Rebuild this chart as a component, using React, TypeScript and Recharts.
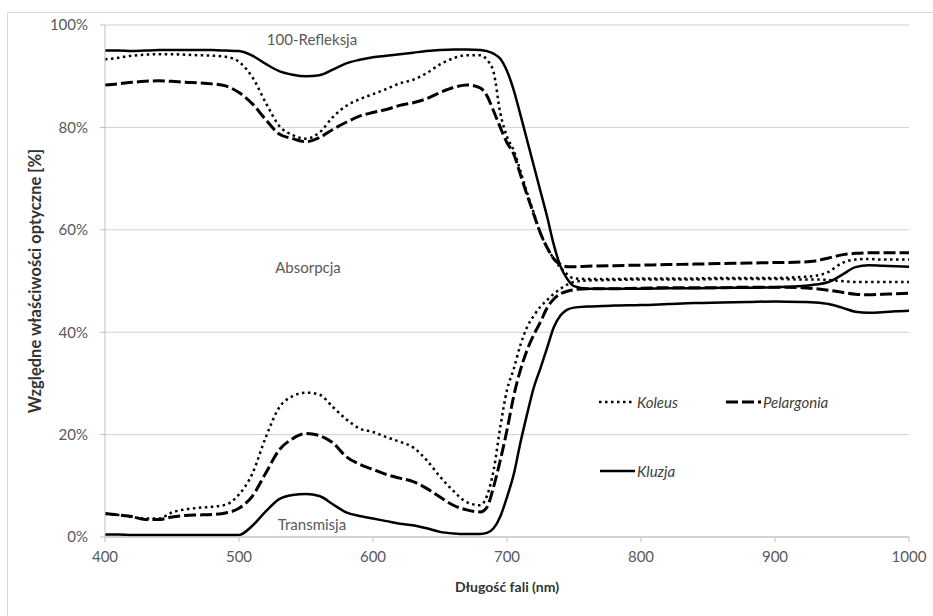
import React from 'react';
import { LineChart, Line, XAxis, YAxis, CartesianGrid } from 'recharts';

// wavelength (nm)
const wavelengths = [
  400, 410, 420, 430, 440, 450, 460, 470, 480, 490,
  500, 510, 520, 530, 540, 550, 560, 570, 580, 590,
  600, 610, 620, 630, 640, 650, 660, 670, 680,
  685, 690, 695, 700, 705, 710, 715, 720, 725, 730, 735, 740, 745, 750,
  760, 780, 800, 820, 840, 860, 880, 900, 920, 930, 940, 950, 960, 970, 980, 990, 1000,
];

// 100 - reflection [%]
const koleusRefl = [
  93.3, 93.6, 94.0, 94.2, 94.3, 94.3, 94.2, 94.1, 94.0, 93.8,
  92.8, 89.8, 84.8, 80.3, 78.5, 77.8, 79.0, 82.0, 84.2, 85.5,
  86.5, 87.5, 88.6, 89.3, 90.6, 92.3, 93.5, 94.1, 94.1,
  93.2, 90.8, 82.8, 78.2, 75.5, 71.5, 67.2, 63.3, 59.3, 56.5, 54.3, 52.6, 51.3, 50.5,
  50.4, 50.4, 50.5, 50.5, 50.5, 50.6, 50.6, 50.6, 50.8, 51.0, 51.8, 53.5, 54.2, 54.3, 54.2, 54.2, 54.2,
];
const pelargoniaRefl = [
  88.3, 88.5, 88.8, 89.0, 89.1, 89.0, 88.8, 88.7, 88.5, 88.1,
  86.8, 84.6, 81.5, 78.7, 77.8, 77.2, 78.0, 79.6, 81.0, 82.2,
  82.9, 83.5, 84.3, 84.8, 85.6, 86.8, 87.8, 88.3, 87.7,
  86.2, 83.2, 80.0, 77.0, 74.8, 70.8, 66.8, 63.0, 59.3, 56.5, 54.3, 53.2, 52.8, 52.8,
  52.9, 53.0, 53.1, 53.2, 53.3, 53.4, 53.5, 53.6, 53.7, 53.9, 54.5, 55.1, 55.4, 55.5, 55.5, 55.5, 55.5,
];
const kluzjaRefl = [
  95.0, 95.0, 94.9, 95.0, 95.1, 95.1, 95.1, 95.1, 95.1, 95.0,
  94.9, 94.0, 92.4, 91.0, 90.3, 90.0, 90.2, 91.3, 92.5, 93.2,
  93.7, 94.0, 94.3, 94.6, 94.9, 95.1, 95.2, 95.2, 95.1,
  94.9, 94.4, 93.4, 91.0, 87.3, 82.5, 77.5, 72.5, 67.5, 62.5, 57.0, 52.8, 50.4, 49.0,
  48.5, 48.5, 48.5, 48.6, 48.6, 48.7, 48.7, 48.8, 49.0, 49.3, 49.8, 51.2, 52.7, 53.1, 53.0, 52.9, 52.8,
];

// transmission [%]
const koleusTrans = [
  4.5, 4.3, 3.9, 3.6, 3.6, 4.8, 5.4, 5.7, 5.9, 6.3,
  8.3, 12.4, 19.5, 25.3, 27.5, 28.2, 27.8, 25.4, 23.0, 21.2,
  20.5, 19.5, 18.6, 17.5, 15.0, 11.8, 9.0, 6.8, 6.2,
  8.0, 13.0, 21.5, 28.7, 32.8, 37.5, 41.0, 43.2, 45.0, 46.3, 47.5, 48.5, 49.3, 49.8,
  50.1, 50.2, 50.3, 50.3, 50.3, 50.4, 50.4, 50.4, 50.3, 50.3, 50.2, 50.0, 49.8, 49.8, 49.8, 49.8, 49.8,
];
const pelargoniaTrans = [
  4.6, 4.3, 4.0, 3.4, 3.4, 3.9, 4.2, 4.3, 4.4, 4.7,
  5.6, 8.0, 12.5, 17.0, 19.2, 20.2, 19.8, 18.4, 15.7, 14.2,
  13.2, 12.2, 11.5, 10.8, 9.5, 7.8, 6.2, 5.3, 4.9,
  5.8, 9.8, 15.0, 20.9, 27.5, 32.6, 36.5, 39.5, 42.0, 44.8, 46.5, 47.5, 48.0, 48.3,
  48.5, 48.5, 48.6, 48.7, 48.7, 48.7, 48.8, 48.8, 48.7, 48.5, 48.2, 47.8, 47.4, 47.3, 47.4, 47.5, 47.6,
];
const kluzjaTrans = [
  0.5, 0.5, 0.4, 0.4, 0.4, 0.4, 0.4, 0.4, 0.4, 0.4,
  0.4, 2.2, 5.0, 7.4, 8.2, 8.4, 8.0, 6.4, 4.8, 4.1,
  3.6, 3.1, 2.6, 2.3, 1.7, 1.0, 0.7, 0.6, 0.6,
  0.8, 1.7, 4.0, 7.8, 12.2, 18.4, 24.0, 29.2, 33.0, 37.0, 41.0, 43.3, 44.4, 44.8,
  45.0, 45.2, 45.3, 45.5, 45.7, 45.8, 45.9, 46.0, 45.9, 45.8, 45.5, 44.8, 44.0, 43.8, 43.9, 44.1, 44.2,
];

const xTicks = [400, 500, 600, 700, 800, 900, 1000];
const yTicks = [0, 20, 40, 60, 80, 100];

const data = wavelengths.map((nm, i) => ({
  nm,
  koleusRefl: koleusRefl[i],
  pelargoniaRefl: pelargoniaRefl[i],
  kluzjaRefl: kluzjaRefl[i],
  koleusTrans: koleusTrans[i],
  pelargoniaTrans: pelargoniaTrans[i],
  kluzjaTrans: kluzjaTrans[i],
}));

const FONT = 'Lato, "Open Sans", sans-serif';
const GRAY = '#595959';
const AXIS = '#bfbfbf';

const DOT = '2.5 3.5';
const DASH = '12 4';

const note: React.CSSProperties = {
  position: 'absolute',
  fontFamily: FONT,
  fontSize: 15,
  color: GRAY,
  whiteSpace: 'nowrap',
  transform: 'translate(-50%, -50%)',
};

const legendText: React.CSSProperties = {
  position: 'absolute',
  fontFamily: FONT,
  fontSize: 15,
  fontStyle: 'italic',
  color: '#404040',
  whiteSpace: 'nowrap',
  transform: 'translateY(-50%)',
};

const LegendLine = ({ x, y, dash, width }: { x: number; y: number; dash?: string; width: number }) => (
  <svg style={{ position: 'absolute', left: x, top: y - 3 }} width={36} height={6}>
    <line x1={0} y1={3} x2={35} y2={3} stroke="#000" strokeWidth={width} strokeDasharray={dash} />
  </svg>
);

const App = () => {
  return (
    <div style={{ position: 'absolute', left: 0, top: 0, width: 933, height: 616, background: '#fff', overflow: 'hidden' }}>
      <div
        style={{
          position: 'absolute',
          left: 7,
          top: 12,
          width: 940,
          height: 620,
          borderTop: '1px solid #d9d9d9',
          borderLeft: '1px solid #d9d9d9',
        }}
      />
      <LineChart width={933} height={616} data={data} margin={{ top: 25, right: 24, left: 0, bottom: 0 }}>
        <CartesianGrid vertical={false} stroke="#d0d0d0" />
        <XAxis
          dataKey="nm"
          type="number"
          domain={[400, 1000]}
          ticks={xTicks}
          height={79}
          tickSize={5}
          tickMargin={9}
          stroke={AXIS}
          tick={{ fill: GRAY, fontSize: 15, fontFamily: FONT }}
          label={{
            value: 'Długość fali (nm)',
            position: 'insideBottom',
            offset: 24,
            style: { fill: '#333', fontSize: 14, fontWeight: 700, fontFamily: FONT },
          }}
        />
        <YAxis
          type="number"
          domain={[0, 100]}
          ticks={yTicks}
          width={105}
          tickSize={5}
          tickMargin={12}
          stroke={AXIS}
          tickFormatter={(v: number) => `${v}%`}
          tick={{ fill: GRAY, fontSize: 15, fontFamily: FONT }}
          label={{
            value: 'Względne właściwości optyczne [%]',
            angle: -90,
            position: 'insideLeft',
            offset: 35,
            style: { fill: '#333', fontSize: 16.5, fontWeight: 700, fontFamily: FONT, textAnchor: 'middle' },
          }}
        />
        <Line type="monotone" dataKey="koleusRefl" stroke="#000" strokeWidth={2.5} strokeDasharray={DOT} dot={false} isAnimationActive={false} />
        <Line type="monotone" dataKey="pelargoniaRefl" stroke="#000" strokeWidth={3} strokeDasharray={DASH} dot={false} isAnimationActive={false} />
        <Line type="monotone" dataKey="kluzjaRefl" stroke="#000" strokeWidth={2.5} dot={false} isAnimationActive={false} />
        <Line type="monotone" dataKey="koleusTrans" stroke="#000" strokeWidth={2.5} strokeDasharray={DOT} dot={false} isAnimationActive={false} />
        <Line type="monotone" dataKey="pelargoniaTrans" stroke="#000" strokeWidth={3} strokeDasharray={DASH} dot={false} isAnimationActive={false} />
        <Line type="monotone" dataKey="kluzjaTrans" stroke="#000" strokeWidth={2.5} dot={false} isAnimationActive={false} />
      </LineChart>

      <div style={{ ...note, left: 312, top: 39 }}>100-Refleksja</div>
      <div style={{ ...note, left: 308, top: 267 }}>Absorpcja</div>
      <div style={{ ...note, left: 312, top: 524 }}>Transmisja</div>

      <LegendLine x={599} y={402} dash={DOT} width={2.5} />
      <div style={{ ...legendText, left: 637, top: 402 }}>Koleus</div>
      <LegendLine x={726} y={402} dash={DASH} width={3} />
      <div style={{ ...legendText, left: 763, top: 402 }}>Pelargonia</div>
      <LegendLine x={600} y={471} width={2.5} />
      <div style={{ ...legendText, left: 637, top: 471 }}>Kluzja</div>
    </div>
  );
};

export default App;
